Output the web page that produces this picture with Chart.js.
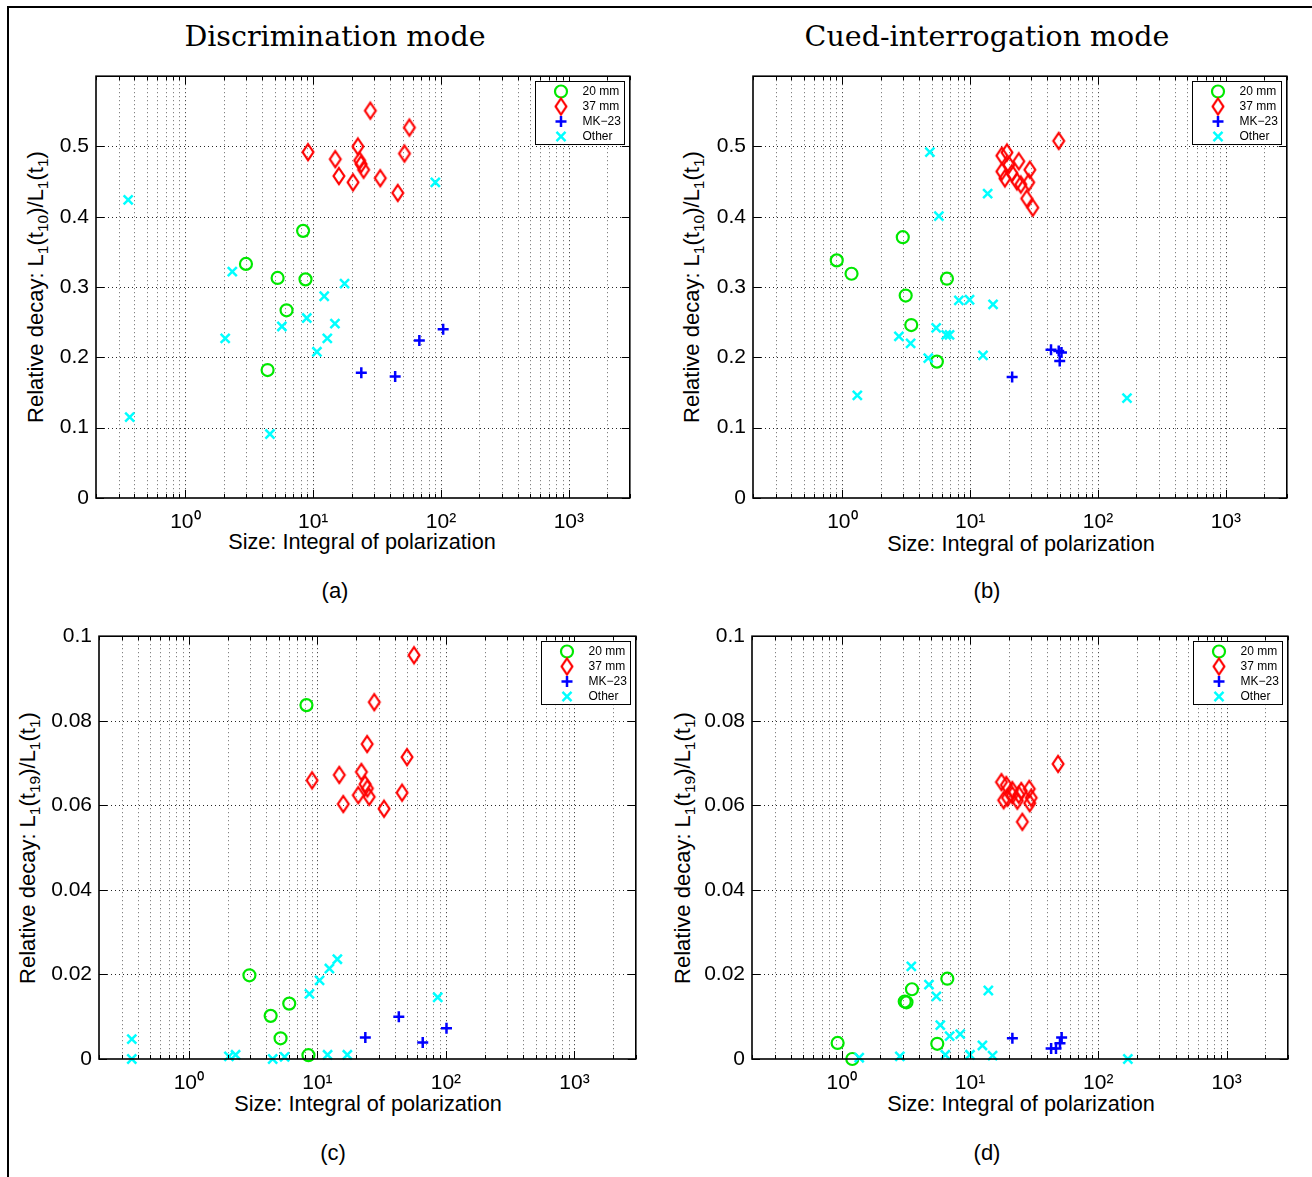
<!DOCTYPE html>
<html><head><meta charset="utf-8">
<script src="https://cdn.jsdelivr.net/npm/chart.js"></script>
<style>
body{margin:0;background:#fff;}
#page{position:relative;width:1312px;height:1177px;overflow:hidden;background:#fff;font-family:"Liberation Sans",Arial,Helvetica,sans-serif;color:#000;}
.ftop{position:absolute;left:7px;top:6px;width:1305px;height:2px;background:#000;}
.fleft{position:absolute;left:7px;top:6px;width:2px;height:1171px;background:#000;}
.t{position:absolute;white-space:nowrap;transform:translate(-50%,-50%);line-height:1;}
.title{font-family:"DejaVu Serif",serif;font-size:28.5px;}
.xl{font-size:21.7px;}
.pl{font-size:22px;}
.yl{font-size:22px;transform:translate(-50%,-50%) rotate(-90deg);}
.yl sub{font-size:15.5px;vertical-align:-5px;line-height:0;}
.wrap{position:absolute;}
</style>
</head><body>
<div id="page">
<div class="ftop"></div><div class="fleft"></div>
<div class="t title" style="left:335px;top:37px">Discrimination mode</div>
<div class="t title" style="left:987px;top:37px">Cued-interrogation mode</div>
<div class="t xl" style="left:362px;top:542px">Size: Integral of polarization</div>
<div class="t xl" style="left:1021px;top:544px">Size: Integral of polarization</div>
<div class="t xl" style="left:368px;top:1104px">Size: Integral of polarization</div>
<div class="t xl" style="left:1021px;top:1104px">Size: Integral of polarization</div>
<div class="t pl" style="left:335px;top:591px">(a)</div>
<div class="t pl" style="left:987px;top:591px">(b)</div>
<div class="t pl" style="left:333px;top:1153px">(c)</div>
<div class="t pl" style="left:987px;top:1153px">(d)</div>
<div class="t yl" style="left:36px;top:287px">Relative decay: L<sub>1</sub>(t<sub>10</sub>)/L<sub>1</sub>(t<sub>1</sub>)</div>
<div class="t yl" style="left:692px;top:287px">Relative decay: L<sub>1</sub>(t<sub>10</sub>)/L<sub>1</sub>(t<sub>1</sub>)</div>
<div class="t yl" style="left:28px;top:848px">Relative decay: L<sub>1</sub>(t<sub>19</sub>)/L<sub>1</sub>(t<sub>1</sub>)</div>
<div class="t yl" style="left:683px;top:848px">Relative decay: L<sub>1</sub>(t<sub>19</sub>)/L<sub>1</sub>(t<sub>1</sub>)</div>
<div class="wrap" id="wa"><canvas id="ca"></canvas></div>
<div class="wrap" id="wb"><canvas id="cb"></canvas></div>
<div class="wrap" id="wc"><canvas id="cc"></canvas></div>
<div class="wrap" id="wd"><canvas id="cd"></canvas></div>
</div>
<script>
// ---------- data ----------
const SERIES_LABELS = ['20 mm', '37 mm', 'MK\u221223', 'Other'];

const X_TICKS = [0.2,0.3,0.4,0.5,0.6,0.7,0.8,0.9,1,2,3,4,5,6,7,8,9,10,20,30,40,50,60,70,80,90,100,200,300,400,500,600,700,800,900,1000,2000,3000];
const X_MAJOR = [1, 10, 100, 1000];
const X_MAJOR_LABELS = ['10\u2070', '10\u00B9', '10\u00B2', '10\u00B3'];

const Y_TICKS_TOP = [0, 0.1, 0.2, 0.3, 0.4, 0.5];
const Y_LABELS_TOP = ['0', '0.1', '0.2', '0.3', '0.4', '0.5'];
const Y_TICKS_BOT = [0, 0.02, 0.04, 0.06, 0.08, 0.1];
const Y_LABELS_BOT = ['0', '0.02', '0.04', '0.06', '0.08', '0.1'];

// (a) Discrimination mode, L1(t10)/L1(t1)
const a20x = [2.98, 8.34, 5.27, 8.71, 6.19, 4.40];
const a20y = [0.333, 0.380, 0.313, 0.311, 0.267, 0.182];
const a37x = [9.12, 14.9, 15.9, 20.5, 22.4, 23.1, 23.7, 24.8, 28.0, 33.5, 45.9, 51.8, 56.6];
const a37y = [0.492, 0.482, 0.458, 0.449, 0.500, 0.480, 0.475, 0.467, 0.551, 0.455, 0.434, 0.490, 0.527];
const aMKx = [23.8, 43.8, 67.7, 104];
const aMKy = [0.178, 0.173, 0.224, 0.240];
const aOtx = [0.357, 0.367, 2.05, 2.33, 4.59, 5.69, 8.91, 10.7, 12.2, 12.9, 14.8, 17.6, 90.3];
const aOty = [0.424, 0.115, 0.227, 0.322, 0.091, 0.244, 0.256, 0.208, 0.287, 0.227, 0.248, 0.305, 0.449];

// (b) Cued-interrogation mode, L1(t10)/L1(t1)
const b20x = [0.904, 1.18, 2.97, 3.13, 3.46, 5.49, 6.58];
const b20y = [0.338, 0.319, 0.371, 0.288, 0.246, 0.194, 0.312];
const b37x = [17.7, 19.4, 24.0, 29.3, 17.7, 21.2, 18.7, 23.2, 24.9, 28.7, 27.7, 30.9, 49.3, 20.1];
const b37y = [0.487, 0.4915, 0.479, 0.467, 0.4645, 0.462, 0.4546, 0.4504, 0.446, 0.449, 0.426, 0.413, 0.508, 0.474];
const bMKx = [21.3, 42.9, 49.3, 51.8, 50.2];
const bMKy = [0.172, 0.211, 0.209, 0.207, 0.195];
const bOtx = [1.31, 2.77, 3.42, 4.70, 4.84, 5.42, 5.69, 6.49, 6.90, 8.16, 9.89, 12.6, 13.7, 15.1, 168.6];
const bOty = [0.146, 0.230, 0.220, 0.199, 0.492, 0.242, 0.401, 0.232, 0.232, 0.281, 0.282, 0.203, 0.433, 0.2755, 0.142];

// (c) Discrimination mode, L1(t19)/L1(t1)
const c20x = [2.96, 4.33, 5.17, 6.04, 8.22, 8.52];
const c20y = [0.0198, 0.0102, 0.0049, 0.0131, 0.0837, 0.0009];
const c37x = [9.1, 14.8, 15.9, 20.8, 22.0, 23.5, 24.4, 25.3, 27.7, 33.0, 45.6, 49.8, 56.5, 24.5];
const c37y = [0.0659, 0.0672, 0.0603, 0.0624, 0.0679, 0.0650, 0.0745, 0.0620, 0.0844, 0.0592, 0.0630, 0.0714, 0.0955, 0.0640];
const cMKx = [23.6, 43.0, 66.0, 101];
const cMKy = [0.0051, 0.0100, 0.0039, 0.0073];
const cOtx = [0.36, 0.36, 2.05, 2.31, 4.49, 5.56, 8.67, 10.4, 12.0, 12.4, 14.3, 17.1, 86.3];
const cOty = [0.0047, 0.0, 0.0006, 0.0010, 0.0, 0.0005, 0.0154, 0.0186, 0.0010, 0.0214, 0.0236, 0.0010, 0.0146];

// (d) Cued-interrogation mode, L1(t19)/L1(t1)
const d20x = [0.93, 1.21, 3.10, 3.20, 3.53, 5.56, 6.66];
const d20y = [0.0038, 0.0, 0.0136, 0.0134, 0.0165, 0.0036, 0.0190];
const d37x = [17.6, 19.2, 19.6, 21.4, 21.4, 23.4, 25.1, 24.0, 29.0, 30.0, 29.2, 25.6, 48.6, 18.3];
const d37y = [0.0655, 0.0648, 0.0618, 0.0624, 0.0636, 0.0611, 0.0634, 0.0625, 0.0639, 0.0618, 0.0605, 0.0561, 0.0698, 0.0612];
const dMKx = [21.4, 42.9, 46.8, 50.3, 51.8];
const dMKy = [0.0049, 0.0025, 0.0025, 0.0037, 0.0051];
const dOtx = [1.37, 2.84, 3.49, 4.79, 5.47, 5.87, 6.42, 6.94, 8.39, 10.0, 12.5, 13.9, 15.0, 170];
const dOty = [0.0003, 0.0006, 0.0219, 0.0176, 0.0148, 0.0080, 0.0010, 0.0054, 0.0059, 0.0010, 0.0032, 0.0162, 0.0008, 0.0];

// ---------- styles ----------
const GREEN = '#00e800', RED = '#ff0000', BLUE = '#0000ff', CYAN = '#00ffff';
const FONT = '"Liberation Sans", Arial, Helvetica, sans-serif';

function makeDiamond(color){
  const c = document.createElement('canvas'); c.width = 18; c.height = 24;
  const g = c.getContext('2d'); g.strokeStyle = color; g.lineWidth = 2.2; g.lineJoin = 'miter';
  g.beginPath(); g.moveTo(9, 4); g.lineTo(14.4, 12); g.lineTo(9, 20); g.lineTo(3.6, 12); g.closePath(); g.stroke();
  return c;
}
const DIAMOND = makeDiamond(RED);

const STYLES = [
  {pointStyle:'circle', pointRadius:6, borderWidth:2.2, color:GREEN, order:3},
  {pointStyle:DIAMOND, pointRadius:9, borderWidth:2.2, color:RED, order:2},
  {pointStyle:'cross', pointRadius:5.5, borderWidth:2.5, color:BLUE, order:1},
  {pointStyle:'crossRot', pointRadius:6.4, borderWidth:2.5, color:CYAN, order:0}
];

function zip(xs, ys){ return xs.map((x,i)=>({x:x, y:ys[i]})); }

function drawMarker(ctx, st, x, y){
  ctx.save();
  ctx.strokeStyle = st.color; ctx.lineWidth = st.borderWidth;
  if (st.pointStyle === 'circle'){
    ctx.beginPath(); ctx.arc(x, y, st.pointRadius, 0, Math.PI*2); ctx.stroke();
  } else if (st.pointStyle === 'cross'){
    const r = st.pointRadius; ctx.beginPath();
    ctx.moveTo(x-r, y); ctx.lineTo(x+r, y); ctx.moveTo(x, y-r); ctx.lineTo(x, y+r); ctx.stroke();
  } else if (st.pointStyle === 'crossRot'){
    const r = st.pointRadius*Math.SQRT1_2; ctx.beginPath();
    ctx.moveTo(x-r, y-r); ctx.lineTo(x+r, y+r); ctx.moveTo(x-r, y+r); ctx.lineTo(x+r, y-r); ctx.stroke();
  } else {
    const im = st.pointStyle; ctx.drawImage(im, x-im.width/2, y-im.height/2);
  }
  ctx.restore();
}

// grid, box, inward ticks, legend (MATLAB-like axes)
const axesPlugin = {
  id: 'matlabAxes',
  beforeDatasetsDraw(chart){
    const {ctx, chartArea:ca, scales:{x, y}} = chart;
    ctx.save();
    ctx.lineWidth = 1; ctx.setLineDash([1, 3]);
    x.ticks.forEach(t => {
      const px = Math.round(x.getPixelForValue(t.value)) + 0.5;
      if (px <= ca.left + 1 || px >= ca.right - 1) return;
      const major = X_MAJOR.includes(t.value);
      ctx.strokeStyle = major ? 'rgba(0,0,0,0.85)' : 'rgba(0,0,0,0.6)';
      ctx.beginPath(); ctx.moveTo(px, ca.top); ctx.lineTo(px, ca.bottom); ctx.stroke();
    });
    y.ticks.forEach(t => {
      const py = Math.round(y.getPixelForValue(t.value)) + 0.5;
      if (py <= ca.top + 1 || py >= ca.bottom - 1) return;
      ctx.strokeStyle = 'rgba(0,0,0,0.85)';
      ctx.beginPath(); ctx.moveTo(ca.left, py); ctx.lineTo(ca.right, py); ctx.stroke();
    });
    ctx.restore();
  },
  afterDatasetsDraw(chart){
    const {ctx, chartArea:ca, scales:{x, y}} = chart;
    ctx.save();
    ctx.strokeStyle = '#000'; ctx.lineWidth = 1; ctx.setLineDash([]);
    x.ticks.forEach(t => {
      const px = Math.round(x.getPixelForValue(t.value)) + 0.5;
      const len = X_MAJOR.includes(t.value) ? 8 : 4;
      ctx.beginPath();
      ctx.moveTo(px, ca.bottom); ctx.lineTo(px, ca.bottom - len);
      ctx.moveTo(px, ca.top); ctx.lineTo(px, ca.top + len);
      ctx.stroke();
    });
    y.ticks.forEach(t => {
      const py = Math.round(y.getPixelForValue(t.value)) + 0.5;
      ctx.beginPath();
      ctx.moveTo(ca.left, py); ctx.lineTo(ca.left + 8, py);
      ctx.moveTo(ca.right, py); ctx.lineTo(ca.right - 8, py);
      ctx.stroke();
    });
    ctx.lineWidth = 1.6;
    ctx.strokeRect(ca.left, ca.top, ca.right - ca.left, ca.bottom - ca.top);
    // legend
    const lw = 89, lh = 63;
    const lx = Math.round(ca.right - 6 - lw) + 0.5, ly = Math.round(ca.top + 5) + 0.5;
    ctx.fillStyle = '#fff'; ctx.fillRect(lx, ly, lw, lh);
    ctx.lineWidth = 1; ctx.strokeStyle = '#000'; ctx.strokeRect(lx, ly, lw, lh);
    ctx.font = '12px ' + FONT; ctx.fillStyle = '#000'; ctx.textBaseline = 'middle'; ctx.textAlign = 'left';
    chart.data.datasets.forEach((ds, i) => {
      const ry = ly + 10 + i * 15;
      drawMarker(ctx, STYLES[i], lx + 25.5, ry);
      ctx.fillText(ds.label, lx + 47, ry + 0.5);
    });
    ctx.restore();
  }
};

function buildChart(canvasId, wrapId, rect, series, yTicks, yLabels, yMax){
  const PADL = 90, PADT = 10, PADR = 10, XH = 55;
  const W = rect.R - rect.L + PADL + PADR, H = rect.B - rect.T + PADT + XH;
  const wrap = document.getElementById(wrapId);
  wrap.style.left = (rect.L - PADL) + 'px'; wrap.style.top = (rect.T - PADT) + 'px';
  const cv = document.getElementById(canvasId);
  cv.width = W; cv.height = H; cv.style.width = W + 'px'; cv.style.height = H + 'px';
  const datasets = series.map((s, i) => ({
    label: SERIES_LABELS[i], data: zip(s[0], s[1]),
    pointStyle: STYLES[i].pointStyle, pointRadius: STYLES[i].pointRadius, pointHoverRadius: STYLES[i].pointRadius,
    borderWidth: STYLES[i].borderWidth, pointBorderWidth: STYLES[i].borderWidth,
    borderColor: STYLES[i].color, pointBorderColor: STYLES[i].color,
    backgroundColor: 'rgba(0,0,0,0)', pointBackgroundColor: 'rgba(0,0,0,0)',
    showLine: false, order: STYLES[i].order, clip: false
  }));
  new Chart(cv, {
    type: 'scatter',
    data: {datasets},
    options: {
      responsive: false, animation: false, devicePixelRatio: 1, events: [],
      layout: {padding: {left: 0, top: PADT, right: PADR, bottom: 0}},
      plugins: {legend: {display: false}, tooltip: {enabled: false}},
      scales: {
        x: {
          type: 'logarithmic', min: 0.2, max: 3000,
          grid: {display: false, drawTicks: false}, border: {display: false},
          afterBuildTicks: s => { s.ticks = X_TICKS.map(v => ({value: v, major: X_MAJOR.includes(v)})); },
          afterFit: s => { s.height = XH; s.paddingLeft = 0; s.paddingRight = 0; },
          ticks: {autoSkip: false, maxRotation: 0, minRotation: 0, padding: 12, color: '#000',
                  font: {family: FONT, size: 21},
                  callback: v => { const k = X_MAJOR.indexOf(v); return k >= 0 ? X_MAJOR_LABELS[k] : ''; }}
        },
        y: {
          type: 'linear', min: 0, max: yMax,
          grid: {display: false, drawTicks: false}, border: {display: false},
          afterBuildTicks: s => { s.ticks = yTicks.map(v => ({value: v})); },
          afterFit: s => { s.width = PADL; s.paddingTop = 0; s.paddingBottom = 0; },
          ticks: {padding: 7, color: '#000', font: {family: FONT, size: 21},
                  callback: (v, idx) => yLabels[idx]}
        }
      }
    },
    plugins: [axesPlugin]
  });
}

buildChart('ca', 'wa', {L:96, T:75, R:631, B:498},
  [[a20x,a20y],[a37x,a37y],[aMKx,aMKy],[aOtx,aOty]], Y_TICKS_TOP, Y_LABELS_TOP, 0.6);
buildChart('cb', 'wb', {L:753, T:75, R:1288, B:498},
  [[b20x,b20y],[b37x,b37y],[bMKx,bMKy],[bOtx,bOty]], Y_TICKS_TOP, Y_LABELS_TOP, 0.6);
buildChart('cc', 'wc', {L:99, T:635, R:637, B:1059},
  [[c20x,c20y],[c37x,c37y],[cMKx,cMKy],[cOtx,cOty]], Y_TICKS_BOT, Y_LABELS_BOT, 0.1);
buildChart('cd', 'wd', {L:752, T:635, R:1289, B:1059},
  [[d20x,d20y],[d37x,d37y],[dMKx,dMKy],[dOtx,dOty]], Y_TICKS_BOT, Y_LABELS_BOT, 0.1);
</script>
</body></html>
